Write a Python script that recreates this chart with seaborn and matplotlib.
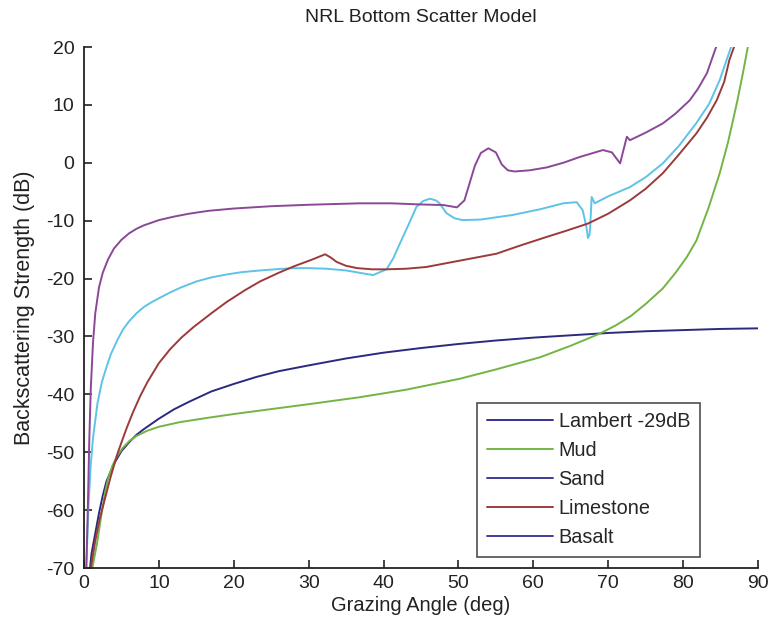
import matplotlib
matplotlib.use("Agg")
import matplotlib.pyplot as plt
from matplotlib.lines import Line2D
import seaborn as sns
import pandas as pd

# ---- data ----
lambert_x = [0.8, 1.0, 1.5, 2.0, 2.5, 3.0, 4.0, 5.0, 6.0, 7.0, 8.0, 10, 12, 14, 17, 20, 23, 26, 30, 35, 40, 45, 50, 55, 60, 65, 70, 75, 80, 85, 90]
lambert_y = [-70, -67.5, -64, -60.5, -57.5, -55, -52, -49.8, -48.3, -47, -46, -44.2, -42.6, -41.3, -39.5, -38.2, -37.0, -36.0, -35.0, -33.8, -32.8, -32.0, -31.3, -30.7, -30.2, -29.8, -29.4, -29.1, -28.9, -28.7, -28.6]

mud_x = [1.1, 1.4, 1.7, 2.0, 2.4, 2.8, 3.2, 3.8, 4.4, 5.2, 6.1, 7.0, 8.4, 10, 12.8, 16.8, 20, 23.5, 30, 36.8, 43, 50.2, 55, 60.9, 65, 68.9, 71, 73, 75, 77.3, 79, 80.5, 81.8, 83.4, 84.9, 86, 86.6, 87.3, 88, 88.7]
mud_y = [-70, -68, -66, -63.5, -60.1, -57, -54.6, -52.3, -50.7, -49.2, -48, -47.2, -46.3, -45.6, -44.8, -44, -43.4, -42.8, -41.7, -40.5, -39.2, -37.3, -35.7, -33.6, -31.6, -29.5, -28.1, -26.5, -24.4, -21.7, -19, -16.3, -13.4, -7.8, -1.8, 3.5, 6.9, 11, 15.5, 20.3]

sand_x = [0.3, 0.6, 0.9, 1.2, 1.8, 2.4, 3.0, 3.6, 4.5, 5.2, 6, 7, 8, 9, 10, 11.5, 13, 15, 17, 19, 21, 23.5, 26, 28, 30, 32.4, 35, 36.8, 38.6, 40.4, 41.3, 42.2, 43.3, 44.4, 45.3, 46.2, 47, 47.5, 48.4, 49.5, 50.6, 53, 57.3, 61, 64, 65.8, 66.6, 67.1, 67.3, 67.5, 67.6, 67.8, 68.2, 70, 72.9, 75, 77.3, 79.5, 81.8, 83.5, 84.9, 86.5]
sand_y = [-70, -59, -52, -47.5, -41.5, -37.8, -35.3, -33, -30.5, -28.8, -27.4, -26.0, -24.9, -24.1, -23.4, -22.4, -21.5, -20.5, -19.8, -19.3, -18.9, -18.6, -18.35, -18.2, -18.2, -18.3, -18.6, -19.0, -19.4, -18.4, -16.5, -13.9, -10.8, -7.6, -6.6, -6.2, -6.5, -7.0, -8.7, -9.6, -9.9, -9.8, -9.0, -8.0, -7.0, -6.8, -8.2, -11.1, -13.0, -12.5, -11.1, -5.9, -7.0, -5.8, -4.2, -2.5, -0.1, 3, 6.9, 10.2, 14.3, 20.3]

limestone_x = [0.9, 1.5, 2.0, 2.5, 3.0, 3.5, 4.4, 5.0, 5.7, 6.5, 7.5, 8.5, 10, 11.5, 13, 14.6, 17, 19.1, 21.5, 23.5, 26, 28, 30.5, 32.2, 33.0, 33.7, 35, 36.5, 38.5, 40.4, 43, 45.7, 50.2, 55.1, 58, 61.8, 64.5, 67.3, 70, 72.9, 75, 77.3, 79.5, 81.8, 83.2, 84.5, 85.5, 86.2, 86.9]
limestone_y = [-70, -65.3, -62, -59.5, -57, -54.5, -50.5, -48.3, -45.8, -43.2, -40.3, -37.8, -34.6, -32.2, -30.2, -28.4, -26.0, -24.0, -22.0, -20.5, -19.0, -17.9, -16.7, -15.8, -16.4, -17.1, -17.8, -18.2, -18.4, -18.4, -18.3, -18, -16.9, -15.7, -14.4, -12.8, -11.7, -10.5, -8.8, -6.5, -4.5, -1.8, 1.5, 5.1, 7.8, 10.8, 14, 17.8, 20.3]

basalt_x = [0.3, 0.5, 0.7, 0.9, 1.2, 1.5, 2.0, 2.5, 3.2, 4.0, 5.0, 6.0, 7.0, 8.0, 10, 12, 14, 16.6, 20, 25, 30, 36.8, 41, 45, 48, 49.8, 50.8, 51.5, 52.2, 53, 54, 55, 55.8, 56.6, 57.5, 59.5, 61.8, 64, 66.2, 69.3, 70.5, 71.6, 72.2, 72.5, 72.9, 75, 77.3, 79, 80.9, 82, 83.2, 84.5]
basalt_y = [-70, -60, -48, -39, -31, -26, -21.5, -19, -16.7, -14.8, -13.3, -12.2, -11.4, -10.8, -9.9, -9.3, -8.8, -8.3, -7.9, -7.5, -7.25, -7.0, -7.0, -7.2, -7.3, -7.7, -6.5, -3.5, -0.5, 1.7, 2.5, 1.8, -0.3, -1.3, -1.5, -1.3, -0.8, 0, 1.0, 2.2, 1.8, -0.1, 3.0, 4.5, 3.9, 5.2, 6.8, 8.5, 10.8, 12.8, 15.5, 20.3]

series_names = ["Lambert -29dB", "Mud", "Sand", "Limestone", "Basalt"]
x_ticks = [0, 10, 20, 30, 40, 50, 60, 70, 80, 90]
y_ticks = [-70, -60, -50, -40, -30, -20, -10, 0, 10, 20]

# ---- build a long table ----
frames = []
for name, xs, ys in zip(series_names,
                        [lambert_x, mud_x, sand_x, limestone_x, basalt_x],
                        [lambert_y, mud_y, sand_y, limestone_y, basalt_y]):
    frames.append(pd.DataFrame({"angle": xs, "bs": ys, "series": name}))
df = pd.concat(frames, ignore_index=True)

line_colors = {
    "Lambert -29dB": "#2a2a7e",
    "Mud": "#74b444",
    "Sand": "#5ec3e6",
    "Limestone": "#9c3a3a",
    "Basalt": "#8a4897",
}
legend_colors = ["#33338f", "#74b444", "#3d3d9c", "#a03c3c", "#3d3d9c"]

sns.set_theme(style="white")
plt.rcParams["font.family"] = ["Liberation Sans", "DejaVu Sans"]
plt.rcParams["axes.unicode_minus"] = False

fig = plt.figure(figsize=(7.71, 6.31), dpi=100)
ax = fig.add_axes([0.109, 0.0998, 0.874, 0.8257])

sns.lineplot(data=df, x="angle", y="bs", hue="series", palette=line_colors,
             estimator=None, sort=False, linewidth=1.4, legend=False, ax=ax)

ax.set_xlim(0, 90)
ax.set_ylim(-70, 20)
ax.set_xticks(x_ticks)
ax.set_yticks(y_ticks)
ax.tick_params(direction="in", length=6, width=1.2, labelsize=14, colors="#222222",
               top=False, right=False, bottom=True, left=True)
ax.tick_params(axis="x", pad=5)
ax.tick_params(axis="y", pad=7)
for s in ["top", "right"]:
    ax.spines[s].set_visible(False)
for s in ["left", "bottom"]:
    ax.spines[s].set_color("#222222")
    ax.spines[s].set_linewidth(1.3)

ax.set_xlabel("Grazing Angle (deg)", fontsize=14.5, color="#222222", labelpad=3)
ax.set_ylabel("Backscattering Strength (dB)", fontsize=15.5, color="#222222", labelpad=8)
ax.set_title("NRL Bottom Scatter Model", fontsize=14, color="#222222", pad=18)

handles = [Line2D([0], [0], color=c, lw=1.4) for c in legend_colors]
leg = ax.legend(handles, series_names, loc="lower right",
                bbox_to_anchor=(0.914, 0.021), borderaxespad=0, fontsize=14.3,
                frameon=True, fancybox=False, edgecolor="#222222",
                handlelength=3.3, borderpad=0.5, labelspacing=0.5,
                handletextpad=0.3)
leg.get_frame().set_linewidth(1.2)

fig.savefig("out.png", dpi=100, facecolor="white")
